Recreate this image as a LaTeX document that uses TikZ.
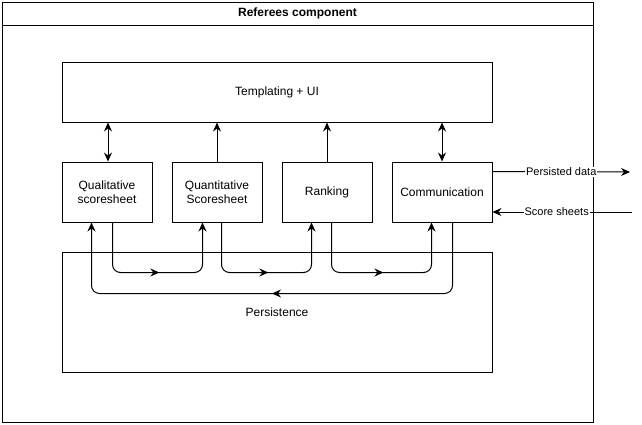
\documentclass[tikz,border=0pt]{standalone}
\usepackage{fontspec}
\setmainfont{Liberation Sans}
\usetikzlibrary{arrows.meta,calc,decorations.markings}
\begin{document}
\begin{tikzpicture}[x=1pt,y=-1pt,line width=1pt,
  tip/.style={-{Stealth[length=9pt,width=8pt,inset=3pt]}},
  dbl/.style={{Stealth[length=9pt,width=8pt,inset=3pt]}-{Stealth[length=9pt,width=8pt,inset=3pt]}},
  box/.style={draw,minimum width=#1,minimum height=60pt,inner sep=0pt,align=center,font=\fontsize{12}{14}\selectfont},
  midarrow/.style={postaction={decorate},decoration={markings,mark=at position #1 with {\arrow{Stealth[length=9pt,width=8pt,inset=3pt]}}}},
  flow/.style={tip,rounded corners=8pt},
  elabel/.style={fill=white,inner sep=1pt,font=\fontsize{11}{13}\selectfont}]
\useasboundingbox (0,0) rectangle (642,424);
% outer container
\node[draw,minimum width=591pt,minimum height=420pt,inner sep=0pt] (outer) at (297.5,212) {};
\node[draw,minimum width=591pt,minimum height=23pt,inner sep=0pt,font=\bfseries\fontsize{12}{14}\selectfont] (title) at (297.5,13.5) {Referees component};
% boxes
\node[box=430pt] (templ) at (277,92) {Templating + UI};
\node[box=90pt] (qual) at (107,192) {Qualitative\\scoresheet};
\node[box=90pt] (quant) at (217,192) {Quantitative\\Scoresheet};
\node[box=90pt] (rank) at (327,192) {Ranking};
\node[box=100pt] (comm) at (442,192) {Communication};
\node[box=430pt,minimum height=120pt] (pers) at (277,312) {Persistence};
% to templating
\coordinate (qn) at ($(qual.north)+(1,0)$);
\draw[dbl] (qn) -- (qn |- templ.south);
\draw[tip] (quant.north) -- (quant.north |- templ.south);
\draw[tip] (rank.north) -- (rank.north |- templ.south);
\draw[dbl] (comm.north) -- (comm.north |- templ.south);
% flows through persistence
\draw[flow,midarrow=0.51] ($(qual.south west)+(51,0)$) -- ++(0,50) -| ($(quant.south west)+(31,0)$);
\draw[flow,midarrow=0.51] ($(quant.south west)+(50,0)$) -- ++(0,50) -| ($(rank.south west)+(30,0)$);
\draw[flow,midarrow=0.51] ($(rank.south west)+(50,0)$) -- ++(0,50) -| ($(comm.south west)+(40,0)$);
\draw[flow,midarrow=0.5] ($(comm.south west)+(61,0)$) -- ++(0,71) -| ($(qual.south west)+(30,0)$);
% external
\coordinate (pout) at (630,172);
\coordinate (sin) at (632,212);
\draw[tip] ($(comm.north east)+(0,10)$) -- node[elabel] {Persisted data} (pout);
\draw[tip] (sin) -- node[elabel,pos=0.54] {Score sheets} (sin -| comm.east);
\end{tikzpicture}
\end{document}
